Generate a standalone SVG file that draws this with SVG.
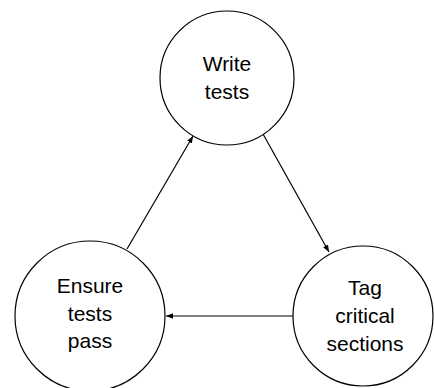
<svg xmlns="http://www.w3.org/2000/svg" width="434" height="388" viewBox="0 0 434 388">
<style>
.node{fill:#fff;stroke:#000;stroke-width:1.2}
.lbl{font-family:"Liberation Sans",Arial,sans-serif;font-size:21px;fill:#000;text-anchor:middle}
.edge{stroke:#000;stroke-width:1.2;fill:none;marker-end:url(#ah)}
</style>
<defs>
<marker id="ah" viewBox="0 0 10 8" refX="10" refY="4" markerWidth="7" markerHeight="5.6" markerUnits="userSpaceOnUse" orient="auto">
<path d="M0,0 L10,4 L0,8 Z" fill="#000"/>
</marker>
</defs>
<rect width="434" height="388" fill="#fff"/>
<g id="connectors">
<line class="edge" x1="127" y1="249" x2="193" y2="136"/>
<line class="edge" x1="263" y1="134" x2="329" y2="252"/>
<line class="edge" x1="293" y1="316" x2="166" y2="316"/>
</g>
<g id="write-tests">
<circle class="node" cx="227" cy="78" r="67"/>
<text class="lbl" x="227" y="71">Write</text>
<text class="lbl" x="227" y="99">tests</text>
</g>
<g id="ensure-tests-pass">
<circle class="node" cx="90" cy="316" r="75"/>
<text class="lbl" x="90" y="293">Ensure</text>
<text class="lbl" x="90" y="321">tests</text>
<text class="lbl" x="90" y="348">pass</text>
</g>
<g id="tag-critical-sections">
<circle class="node" cx="363" cy="316" r="70"/>
<text class="lbl" x="365" y="295">Tag</text>
<text class="lbl" x="365" y="323">critical</text>
<text class="lbl" x="365" y="351">sections</text>
</g>
</svg>
